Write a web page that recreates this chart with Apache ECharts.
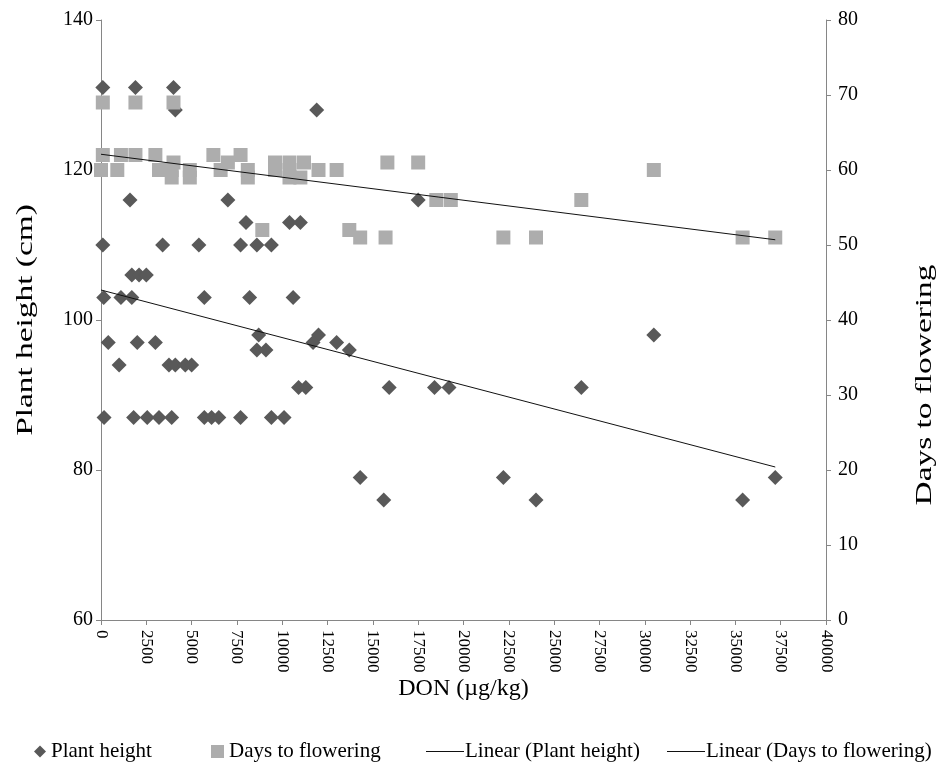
<!DOCTYPE html>
<html>
<head>
<meta charset="utf-8">
<script src="https://cdn.jsdelivr.net/npm/echarts@6/dist/echarts.min.js"></script>
<style>html,body{margin:0;padding:0;background:#fff}#c{width:938px;height:762px}</style>
</head>
<body>
<div id="c"></div>
<script>
// Plant height (cm) vs DON (µg/kg)
const heightDON = [100,1900,4000, 4100,11900, 1600,7000,17500, 8000,10400,11000,
  100,3400,5400,7700,8600,9400, 1700,2100,2500, 150,1100,1700,5700,8200,10600,
  8700,12000,30500, 400,2000,3000,11700,13000, 8600,9100,13700,
  1000,3750,4100,4650,5000, 10900,11300,15900,18400,19200,26500,
  170,1800,2550,3200,3900,5700,6100,6500,7700,9400,10100,
  14300,22200,37200, 15600,24000,35400];
const heightVal = [131,131,131, 128,128, 116,116,116, 113,113,113,
  110,110,110,110,110,110, 106,106,106, 103,103,103,103,103,103,
  98,98,98, 97,97,97,97,97, 96,96,96,
  94,94,94,94,94, 91,91,91,91,91,91,
  87,87,87,87,87,87,87,87,87,87,87,
  79,79,79, 76,76,76];
// Days to flowering vs DON
const daysDON = [100,1900,4000,
  100,1100,1900,3000,6200,7700,
  4000,7000,9600,10400,11200,15800,17500,
  0,900,3200,3900,4900,6600,8100,9600,10400,12000,13000,30500,
  3900,4900,8100,10400,11000,
  18500,19300,26500,
  8900,13700,
  14300,15700,22200,24000,35400,37200];
const daysVal = [69,69,69,
  62,62,62,62,62,62,
  61,61,61,61,61,61,61,
  60,60,60,60,60,60,60,60,60,60,60,60,
  59,59,59,59,59,
  56,56,56,
  52,52,
  51,51,51,51,51,51];
// Linear trend endpoints
const trendHeightX = [0, 37200];
const trendHeightY = [104, 80.4];
const trendDaysX = [0, 37200];
const trendDaysY = [62.1, 50.7];

const xTicks = {min: 0, max: 40000, interval: 2500};
const leftTicks = {min: 60, max: 140, interval: 20};
const rightTicks = {min: 0, max: 80, interval: 10};

const zip = (a, b) => a.map((v, i) => [v, b[i]]);
const font = 'Liberation Serif';
const axisGray = '#868686';
const linePath = 'path://M0,0H40V1H0Z';

const chart = echarts.init(document.getElementById('c'), null, {renderer: 'canvas'});
const legendText = {fontFamily: font, fontSize: 21, color: '#000'};
chart.setOption({
  animation: false,
  backgroundColor: '#fff',
  grid: {left: 101, right: 112, top: 20, bottom: 142, outerBoundsMode: 'none', containLabel: false},
  legend: [
    {data: [{name: 'Plant height', icon: 'diamond'}], left: 29, top: 736, itemWidth: 12, itemHeight: 12, itemGap: 8, textStyle: legendText},
    {data: [{name: 'Days to flowering', icon: 'rect'}], left: 206, top: 736, itemWidth: 13, itemHeight: 13, textStyle: legendText},
    {data: [{name: 'Linear (Plant height)', icon: linePath}], left: 421, top: 736, itemWidth: 38, itemHeight: 1.2, textStyle: Object.assign({padding: [0,0,0,-4]}, legendText)},
    {data: [{name: 'Linear (Days to flowering)', icon: linePath}], left: 662, top: 736, itemWidth: 38, itemHeight: 1.2, textStyle: Object.assign({padding: [0,0,0,-4]}, legendText)}
  ],
  graphic: [
    {type: 'text', x: 26, y: 320, rotation: Math.PI / 2, scaleX: 1.45,
      style: {text: 'Plant height (cm)', font: '23px "Liberation Serif"', fill: '#000', align: 'center', verticalAlign: 'middle'}},
    {type: 'text', x: 925, y: 385, rotation: Math.PI / 2, scaleX: 1.45,
      style: {text: 'Days to flowering', font: '23px "Liberation Serif"', fill: '#000', align: 'center', verticalAlign: 'middle'}}
  ],
  xAxis: {
    type: 'value', min: xTicks.min, max: xTicks.max, interval: xTicks.interval,
    name: 'DON (µg/kg)', nameLocation: 'middle', nameGap: 57, nameMoveOverlap: false,
    nameTextStyle: {fontFamily: font, fontSize: 24, color: '#000'},
    axisLine: {show: true, onZero: false, lineStyle: {color: axisGray, width: 1}},
    axisTick: {show: true, inside: false, length: 5, lineStyle: {color: axisGray}},
    axisLabel: {rotate: -90, fontFamily: font, fontSize: 17, color: '#000', margin: 10, formatter: v => String(v)},
    splitLine: {show: false}
  },
  yAxis: [
    {
      type: 'value', position: 'left', min: leftTicks.min, max: leftTicks.max, interval: leftTicks.interval,
      axisLine: {show: true, lineStyle: {color: axisGray, width: 1}},
      axisTick: {show: true, length: 5, lineStyle: {color: axisGray}},
      axisLabel: {fontFamily: font, fontSize: 20, color: '#000', margin: 8},
      splitLine: {show: false}
    },
    {
      type: 'value', position: 'right', min: rightTicks.min, max: rightTicks.max, interval: rightTicks.interval,
      axisLine: {show: true, lineStyle: {color: axisGray, width: 1}},
      axisTick: {show: true, length: 5, lineStyle: {color: axisGray}},
      axisLabel: {fontFamily: font, fontSize: 20, color: '#000', margin: 12},
      splitLine: {show: false}
    }
  ],
  series: [
    {
      name: 'Plant height', type: 'scatter', yAxisIndex: 0, symbol: 'diamond', symbolSize: 15,
      itemStyle: {color: '#595959', opacity: 1}, data: zip(heightDON, heightVal), z: 2
    },
    {
      name: 'Days to flowering', type: 'scatter', yAxisIndex: 1, symbol: 'rect', symbolSize: 14,
      itemStyle: {color: '#adadad', opacity: 1}, data: zip(daysDON, daysVal), z: 3
    },
    {
      name: 'Linear (Plant height)', type: 'line', yAxisIndex: 0, symbol: 'none', showSymbol: false,
      lineStyle: {color: '#111', width: 1}, itemStyle: {color: '#111'}, data: zip(trendHeightX, trendHeightY), z: 4
    },
    {
      name: 'Linear (Days to flowering)', type: 'line', yAxisIndex: 1, symbol: 'none', showSymbol: false,
      lineStyle: {color: '#111', width: 1}, itemStyle: {color: '#111'}, data: zip(trendDaysX, trendDaysY), z: 4
    }
  ]
});
</script>
</body>
</html>
